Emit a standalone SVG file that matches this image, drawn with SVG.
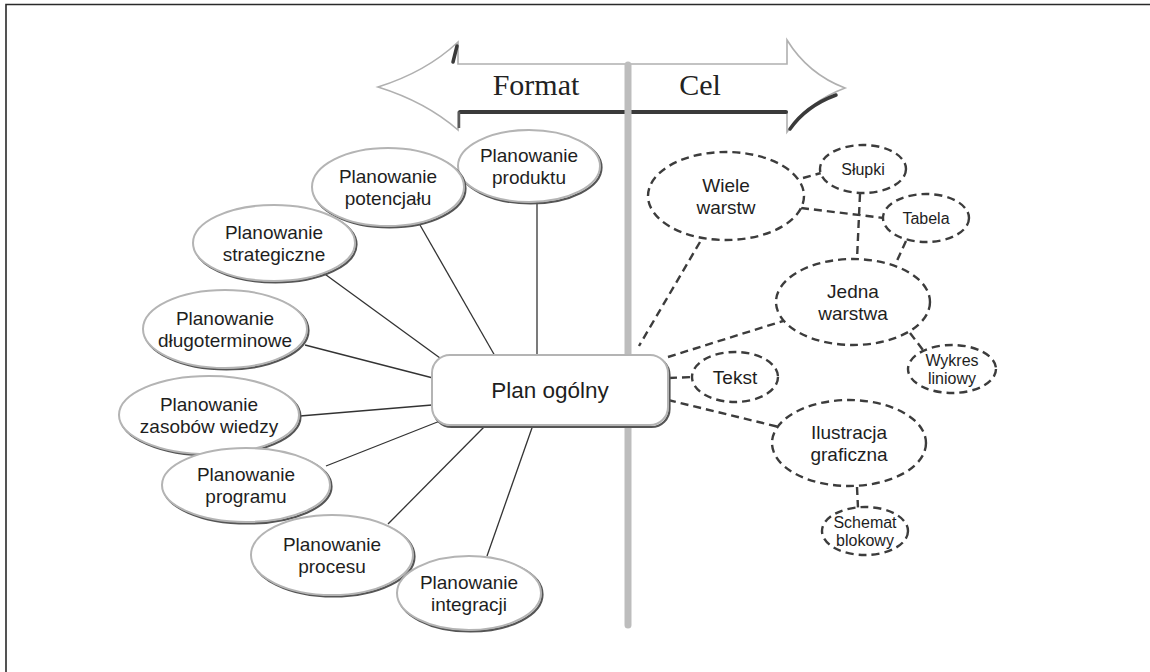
<svg xmlns="http://www.w3.org/2000/svg" width="1150" height="672" viewBox="0 0 1150 672">
  <style>
    .txt { font-family: "Liberation Sans", Arial, sans-serif; fill: #1e1e1e; text-anchor: middle; }
    .lbl { font-size: 19px; }
    .sm { font-size: 16px; }
    .head { font-family: "Liberation Serif", "Times New Roman", serif; font-size: 30px; fill: #222; text-anchor: middle; }
    .sh { fill: none; stroke: #555; stroke-width: 2.2; }
    .el { fill: #fff; stroke: #b4b4b4; stroke-width: 2; }
    .dash { fill: #fff; stroke: #3c3c3c; stroke-width: 2.4; stroke-dasharray: 8 5; }
    .link { stroke: #333; stroke-width: 1.3; fill: none; }
    .dlink { stroke: #3c3c3c; stroke-width: 2.4; stroke-dasharray: 8 5; fill: none; }
  </style>

  <rect x="0" y="0" width="1150" height="672" fill="#fff"/>
  <!-- frame -->
  <path d="M6,672 V4.5 H1150" fill="none" stroke="#2a2a2a" stroke-width="1.6"/>

  <!-- double arrow header -->
  <g id="header-arrow">
    <path d="M378,87 Q426,72 458,42 L458,64 L787,64 L787,40 Q808,74 845,88 Q808,102 787,132 L787,112 L458,112 L458,130 Q426,102 378,87 Z" fill="#fff" stroke="#b0b0b0" stroke-width="1.6"/>
    <path d="M460,112 L786,112" stroke="#3a3a3a" stroke-width="4" stroke-linecap="round"/>
    <path d="M459,112 L459,128" stroke="#5a5a5a" stroke-width="2.5"/>
    <path d="M457,46 Q455,54 453,62" stroke="#3a3a3a" stroke-width="3.5" fill="none" stroke-linecap="round"/>
    <path d="M790,129 Q806,106 836,95" stroke="#3a3a3a" stroke-width="3.5" fill="none" stroke-linecap="round"/>
    <text class="head" x="536" y="95">Format</text>
    <text class="head" x="700" y="95">Cel</text>
  </g>

  <!-- dividing bar -->
  <line x1="628" y1="65" x2="628" y2="625" stroke="#bdbdbd" stroke-width="7" stroke-linecap="round"/>

  <!-- connectors -->
  <g id="connectors">
    <line class="link" x1="537" y1="202" x2="537" y2="356"/>
    <line class="link" x1="420" y1="225" x2="495" y2="356"/>
    <line class="link" x1="322" y1="272" x2="440" y2="358"/>
    <line class="link" x1="305" y1="345" x2="433" y2="378"/>
    <line class="link" x1="300" y1="416" x2="432" y2="405"/>
    <line class="link" x1="326" y1="466" x2="440" y2="421"/>
    <line class="link" x1="388" y1="524" x2="486" y2="425"/>
    <line class="link" x1="487" y1="556" x2="533" y2="425"/>

    <line class="dlink" x1="700" y1="242" x2="639" y2="346"/>
    <line class="dlink" x1="803" y1="178" x2="821" y2="173"/>
    <line class="dlink" x1="801" y1="208" x2="884" y2="218"/>
    <line class="dlink" x1="860" y1="194" x2="857" y2="259"/>
    <line class="dlink" x1="906" y1="241" x2="896" y2="263"/>
    <line class="dlink" x1="668" y1="357" x2="783" y2="321"/>
    <line class="dlink" x1="669" y1="378" x2="692" y2="377"/>
    <line class="dlink" x1="668" y1="400" x2="779" y2="427"/>
    <line class="dlink" x1="910" y1="333" x2="923" y2="350"/>
    <line class="dlink" x1="857" y1="487" x2="858" y2="508"/>
  </g>

  <!-- central node -->
  <g id="plan-ogolny">
    <rect x="433.5" y="357" width="236" height="70" rx="18" class="sh"/>
    <rect x="432" y="355" width="236" height="70" rx="18" class="el"/>
    <text class="txt" x="550" y="398" style="font-size:22.5px">Plan ogólny</text>
  </g>

  <!-- left-hand nodes -->
  <g id="planowanie-produktu">
    <ellipse cx="530.5" cy="167.5" rx="71" ry="36" class="sh"/>
    <ellipse cx="529" cy="166" rx="71" ry="36" class="el"/>
    <text class="txt lbl" x="529" y="162">Planowanie</text>
    <text class="txt lbl" x="529" y="184">produktu</text>
  </g>
  <g id="planowanie-potencjalu">
    <ellipse cx="389.5" cy="188.5" rx="76" ry="39" class="sh"/>
    <ellipse cx="388" cy="187" rx="76" ry="39" class="el"/>
    <text class="txt lbl" x="388" y="183">Planowanie</text>
    <text class="txt lbl" x="388" y="205">potencjału</text>
  </g>
  <g id="planowanie-strategiczne">
    <ellipse cx="275.5" cy="244.5" rx="81" ry="38" class="sh"/>
    <ellipse cx="274" cy="243" rx="81" ry="38" class="el"/>
    <text class="txt lbl" x="274" y="239">Planowanie</text>
    <text class="txt lbl" x="274" y="261">strategiczne</text>
  </g>
  <g id="planowanie-dlugoterminowe">
    <ellipse cx="226.5" cy="330.5" rx="82" ry="39" class="sh"/>
    <ellipse cx="225" cy="329" rx="82" ry="39" class="el"/>
    <text class="txt lbl" x="225" y="325">Planowanie</text>
    <text class="txt lbl" x="225" y="347">długoterminowe</text>
  </g>
  <g id="planowanie-zasobow-wiedzy">
    <ellipse cx="210.5" cy="416.5" rx="90" ry="39" class="sh"/>
    <ellipse cx="209" cy="415" rx="90" ry="39" class="el"/>
    <text class="txt lbl" x="209" y="411">Planowanie</text>
    <text class="txt lbl" x="209" y="433">zasobów wiedzy</text>
  </g>
  <g id="planowanie-programu">
    <ellipse cx="247.5" cy="486.5" rx="84" ry="37" class="sh"/>
    <ellipse cx="246" cy="485" rx="84" ry="37" class="el"/>
    <text class="txt lbl" x="246" y="481">Planowanie</text>
    <text class="txt lbl" x="246" y="503">programu</text>
  </g>
  <g id="planowanie-procesu">
    <ellipse cx="333.5" cy="556.5" rx="81" ry="40" class="sh"/>
    <ellipse cx="332" cy="555" rx="81" ry="40" class="el"/>
    <text class="txt lbl" x="332" y="551">Planowanie</text>
    <text class="txt lbl" x="332" y="573">procesu</text>
  </g>
  <g id="planowanie-integracji">
    <ellipse cx="470.5" cy="594.5" rx="72" ry="37" class="sh"/>
    <ellipse cx="469" cy="593" rx="72" ry="37" class="el"/>
    <text class="txt lbl" x="469" y="589">Planowanie</text>
    <text class="txt lbl" x="469" y="611">integracji</text>
  </g>

  <!-- right-hand nodes -->
  <g id="wiele-warstw">
    <ellipse cx="726" cy="196" rx="78" ry="44" class="dash"/>
    <text class="txt lbl" x="726" y="192">Wiele</text>
    <text class="txt lbl" x="726" y="214">warstw</text>
  </g>
  <g id="slupki">
    <ellipse cx="863" cy="169" rx="43" ry="24" class="dash"/>
    <text class="txt sm" x="863" y="175">Słupki</text>
  </g>
  <g id="tabela">
    <ellipse cx="926" cy="218" rx="43" ry="24" class="dash"/>
    <text class="txt sm" x="926" y="224">Tabela</text>
  </g>
  <g id="jedna-warstwa">
    <ellipse cx="853" cy="302" rx="77" ry="43" class="dash"/>
    <text class="txt lbl" x="853" y="298">Jedna</text>
    <text class="txt lbl" x="853" y="320">warstwa</text>
  </g>
  <g id="wykres-liniowy">
    <ellipse cx="952" cy="369" rx="44" ry="24" class="dash"/>
    <text class="txt sm" x="952" y="366">Wykres</text>
    <text class="txt sm" x="952" y="384">liniowy</text>
  </g>
  <g id="tekst">
    <ellipse cx="735" cy="377" rx="43" ry="25" class="dash"/>
    <text class="txt lbl" x="735" y="384">Tekst</text>
  </g>
  <g id="ilustracja-graficzna">
    <ellipse cx="849" cy="443" rx="77" ry="43" class="dash"/>
    <text class="txt lbl" x="849" y="439">Ilustracja</text>
    <text class="txt lbl" x="849" y="461">graficzna</text>
  </g>
  <g id="schemat-blokowy">
    <ellipse cx="865" cy="531" rx="43" ry="24" class="dash"/>
    <text class="txt sm" x="865" y="528">Schemat</text>
    <text class="txt sm" x="865" y="546">blokowy</text>
  </g>
</svg>
